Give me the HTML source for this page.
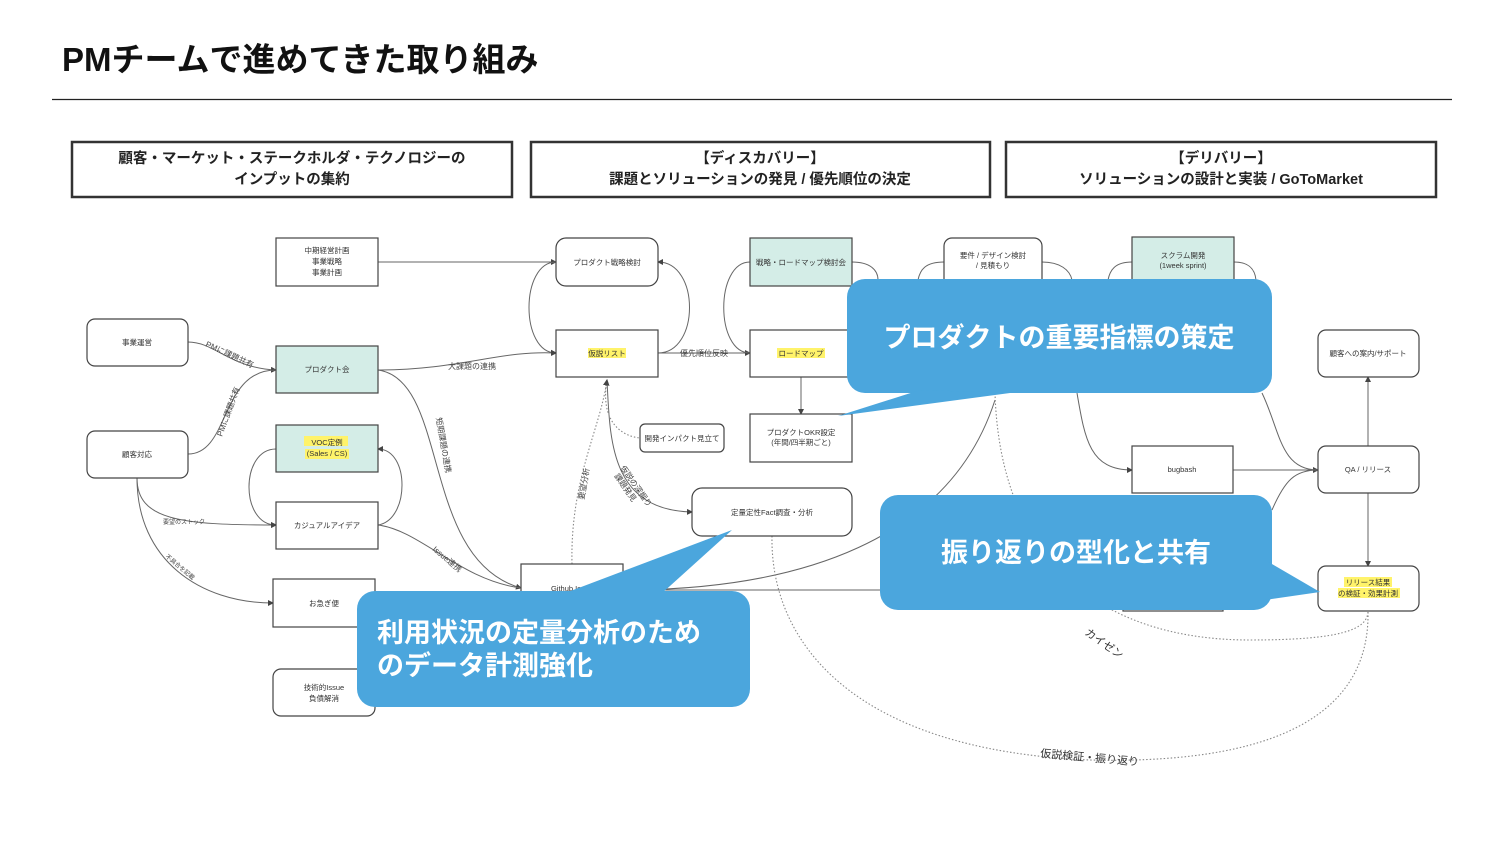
<!DOCTYPE html>
<html><head><meta charset="utf-8"><style>
body{margin:0;background:#fff;}
svg{display:block;}
.t{font-family:"Liberation Sans","Noto Sans CJK JP",sans-serif;}
</style></head><body>
<svg width="1500" height="844" viewBox="0 0 1500 844" xmlns="http://www.w3.org/2000/svg" class="t">
<defs><marker id="a" markerWidth="6" markerHeight="6" refX="5" refY="3" orient="auto"><path d="M0,0 L6,3 L0,6z" fill="#444"/></marker></defs>
<text x="62" y="71" font-size="33" font-weight="bold" fill="#111" font-family="Liberation Sans, Noto Sans CJK JP, sans-serif">PMチームで進めてきた取り組み</text>
<line x1="52" y1="99.5" x2="1452" y2="99.5" stroke="#222" stroke-width="1.3"/>
<g fill="#fff" stroke="#333" stroke-width="2.5">
<rect x="72" y="142" width="440" height="55"/><rect x="531" y="142" width="459" height="55"/><rect x="1006" y="142" width="430" height="55"/></g>
<g font-size="14.5" font-weight="bold" fill="#222" text-anchor="middle">
<text x="292" y="163">顧客・マーケット・ステークホルダ・テクノロジーの</text><text x="292" y="184">インプットの集約</text>
<text x="760" y="163">【ディスカバリー】</text><text x="760" y="184">課題とソリューションの発見 / 優先順位の決定</text>
<text x="1221" y="163">【デリバリー】</text><text x="1221" y="184">ソリューションの設計と実装 / GoToMarket</text></g>

<!-- connectors -->
<g fill="none" stroke="#666" stroke-width="1">
<path d="M378 262 H556" marker-end="url(#a)"/>
<path d="M188 342 C215 342 230 368 276 370" marker-end="url(#a)"/>
<path d="M188 454 C230 454 220 370 276 370"/>
<path d="M378 370 C460 370 500 350 556 353" marker-end="url(#a)"/>
<path d="M378 370 C450 380 420 560 521 588" marker-end="url(#a)"/>
<path d="M378 525 C420 530 460 580 521 588"/>
<path d="M137 478 C137 520 180 525 276 525" marker-end="url(#a)"/>
<path d="M137 478 C137 560 200 603 273 603" marker-end="url(#a)"/>
<path d="M276 449 C240 449 240 525 276 525" marker-end="url(#a)"/>
<path d="M378 525 C410 520 410 449 378 449" marker-end="url(#a)"/>
<path d="M556 262 C520 262 520 353 556 353" marker-end="url(#a)"/>
<path d="M658 353 C700 353 700 262 658 262" marker-end="url(#a)"/>
<path d="M658 353 H750" marker-end="url(#a)"/>
<path d="M750 262 C715 262 715 353 750 353"/>
<path d="M852 262 C870 262 878 270 878 280" marker-start="url(#a)"/>
<path d="M801 377 V414" marker-end="url(#a)" marker-start="url(#a)"/>
<path d="M607 380 C610 440 610 510 692 512" marker-end="url(#a)"/>
<path d="M623 590 C800 590 950 540 995 400"/>
<path d="M623 590 H1123"/>
<path d="M944 262 C925 262 920 270 918 280"/>
<path d="M1042 262 C1060 262 1070 270 1072 280"/>
<path d="M1132 262 C1115 262 1110 270 1108 280"/>
<path d="M1234 262 C1250 262 1255 270 1256 280"/>
<path d="M1077 393 C1085 440 1090 470 1132 470" marker-end="url(#a)"/>
<path d="M1233 470 H1318" marker-end="url(#a)"/>
<path d="M1262 393 C1280 430 1280 470 1318 470"/>
<path d="M1272 510 C1285 480 1295 470 1318 470"/>
<path d="M1368 446 V377" marker-end="url(#a)"/>
<path d="M1368 493 V566" marker-end="url(#a)"/>
</g>
<g fill="none" stroke="#888" stroke-width="1.1" stroke-dasharray="1.5,2">
<path d="M607 380 C600 420 620 436 640 438"/>
<path d="M572 564 C570 480 600 430 607 380" marker-end="url(#a)"/>
<path d="M772 536 C770 640 850 750 1090 760 C1300 765 1370 700 1368 611"/>
<path d="M995 393 C1000 560 1100 640 1250 640 C1340 640 1368 630 1368 611"/>
</g>
<g font-size="8" fill="#444">
<text x="205" y="346" transform="rotate(25 205 346)">PMに課題共有</text>
<text x="222" y="437" transform="rotate(-70 222 437)">PMに課題共有</text>
<text x="448" y="369">大課題の連携</text>
<text x="436" y="418" transform="rotate(80 436 418)">短期課題の連携</text>
<text x="163" y="524" font-size="6">要望のストック</text>
<text x="165" y="557" font-size="6" transform="rotate(40 165 557)">不具合を記載</text>
<text x="432" y="550" transform="rotate(40 432 550)">Issue連携</text>
<text x="680" y="356">優先順位反映</text>
<text x="584" y="500" transform="rotate(-80 584 500)">要望分析</text>
<text x="620" y="468" transform="rotate(55 620 468)">仮説の深掘り</text>
<text x="614" y="476" transform="rotate(55 614 476)">課題発見</text>
</g>
<text x="1084" y="634" font-size="11" fill="#333" transform="rotate(35 1084 634)">カイゼン</text>
<text x="1040" y="757" font-size="11" fill="#333" transform="rotate(5 1040 757)">仮説検証・振り返り</text>

<!-- nodes -->
<g stroke="#444" stroke-width="1.2">
<rect x="276" y="238" width="102" height="48" fill="#fff"/>
<rect x="87" y="319" width="101" height="47" rx="8" fill="#fff"/>
<rect x="276" y="346" width="102" height="47" fill="#d4ede7"/>
<rect x="87" y="431" width="101" height="47" rx="8" fill="#fff"/>
<rect x="276" y="425" width="102" height="47" fill="#d4ede7"/>
<rect x="276" y="502" width="102" height="47" fill="#fff"/>
<rect x="273" y="579" width="102" height="48" fill="#fff"/>
<rect x="273" y="669" width="102" height="47" rx="8" fill="#fff"/>
<rect x="556" y="238" width="102" height="48" rx="10" fill="#fff"/>
<rect x="556" y="330" width="102" height="47" fill="#fff"/>
<rect x="640" y="424" width="84" height="28" rx="5" fill="#fff"/>
<rect x="692" y="488" width="160" height="48" rx="10" fill="#fff"/>
<rect x="521" y="564" width="102" height="48" fill="#fff"/>
<rect x="750" y="238" width="102" height="48" fill="#d4ede7"/>
<rect x="750" y="330" width="102" height="47" fill="#fff"/>
<rect x="750" y="414" width="102" height="48" fill="#fff"/>
<rect x="944" y="238" width="98" height="50" rx="8" fill="#fff"/>
<rect x="1132" y="237" width="102" height="50" fill="#d4ede7"/>
<rect x="1318" y="330" width="101" height="47" rx="8" fill="#fff"/>
<rect x="1132" y="446" width="101" height="47" fill="#fff"/>
<rect x="1318" y="446" width="101" height="47" rx="8" fill="#fff"/>
<rect x="1123" y="560" width="100" height="51" fill="#fff"/>
<rect x="1318" y="566" width="101" height="45" rx="8" fill="#fff"/>
</g>
<g fill="#fff36a">
<rect x="304" y="436" width="44" height="10"/><rect x="305" y="449" width="44" height="10"/>
<rect x="588" y="348" width="38" height="10"/><rect x="777" y="348" width="48" height="10"/>
<rect x="1344" y="577" width="48" height="10"/><rect x="1338" y="588" width="62" height="10"/>
</g>
<g font-size="7.5" fill="#333" text-anchor="middle">
<text x="327" y="253">中期経営計画</text><text x="327" y="264">事業戦略</text><text x="327" y="275">事業計画</text>
<text x="137" y="345">事業運営</text><text x="327" y="372">プロダクト会</text><text x="137" y="457">顧客対応</text>
<text x="327" y="445">VOC定例</text><text x="327" y="456">(Sales / CS)</text>
<text x="327" y="528">カジュアルアイデア</text><text x="324" y="606">お急ぎ便</text>
<text x="324" y="690">技術的Issue</text><text x="324" y="701">負債解消</text>
<text x="607" y="265">プロダクト戦略検討</text><text x="607" y="356">仮説リスト</text>
<text x="682" y="441">開発インパクト見立て</text><text x="772" y="515">定量定性Fact調査・分析</text>
<text x="572" y="591">Github Issue</text>
<text x="801" y="265">戦略・ロードマップ検討会</text><text x="801" y="356">ロードマップ</text>
<text x="801" y="435">プロダクトOKR設定</text><text x="801" y="445">(年間/四半期ごと)</text>
<text x="993" y="258">要件 / デザイン検討</text><text x="993" y="268">/ 見積もり</text>
<text x="1183" y="258">スクラム開発</text><text x="1183" y="268">(1week sprint)</text>
<text x="1368" y="356">顧客への案内/サポート</text><text x="1182" y="472">bugbash</text>
<text x="1368" y="472">QA / リリース</text>
<text x="1368" y="585">リリース結果</text><text x="1368" y="596">の検証・効果計測</text>
</g>

<!-- callouts -->
<g fill="#4ba6dd">
<rect x="847" y="279" width="425" height="114" rx="18"/>
<path d="M920 390 L838 416 L1010 393z"/>
<rect x="880" y="495" width="392" height="115" rx="18"/>
<path d="M1265 560 L1320 592 L1265 600z"/>
<rect x="357" y="591" width="393" height="116" rx="18"/>
<path d="M560 595 L732 530 L660 595z"/>
</g>
<g fill="#fff" font-weight="bold" font-size="27">
<text x="1059" y="347" text-anchor="middle">プロダクトの重要指標の策定</text>
<text x="1076" y="562" text-anchor="middle">振り返りの型化と共有</text>
<text x="377" y="642">利用状況の定量分析のため</text>
<text x="377" y="675">のデータ計測強化</text>
</g>
</svg>
</body></html>
